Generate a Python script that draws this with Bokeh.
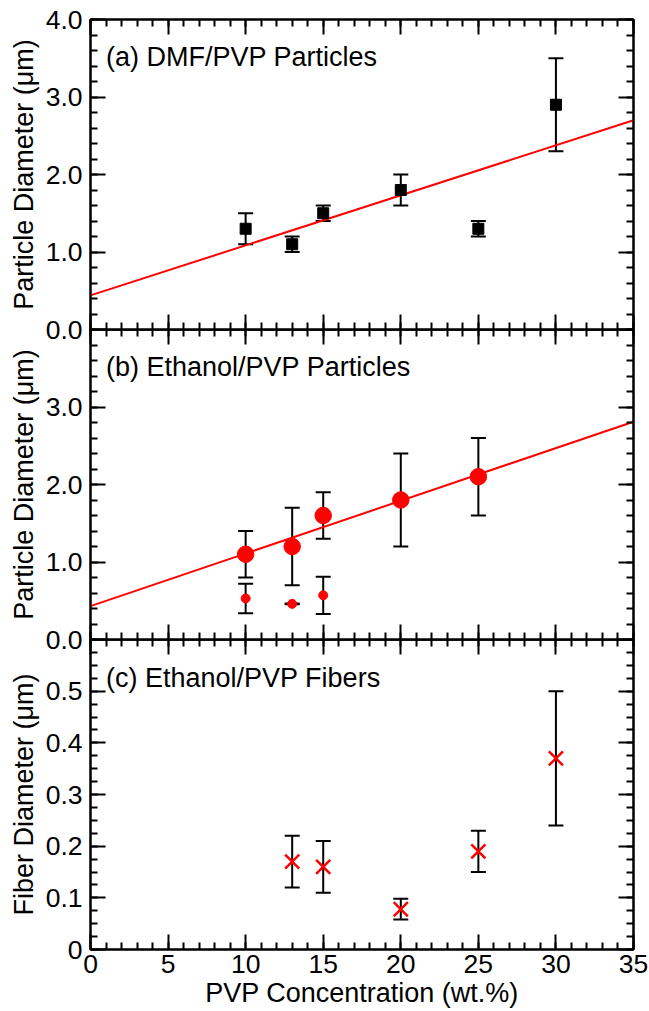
from bokeh.plotting import figure
from bokeh.models import (FixedTicker, LinearAxis, Range1d, Whisker, TeeHead,
                          ColumnDataSource, Label, PrintfTickFormatter)
from bokeh.layouts import column
from bokeh.embed import file_html
from bokeh.resources import INLINE

# ---------------- data ----------------
# (a) DMF/PVP particles
a_x = [10, 13, 15, 20, 25, 30]
a_y = [1.3, 1.1, 1.5, 1.8, 1.3, 2.9]
a_err = [0.2, 0.1, 0.1, 0.2, 0.1, 0.6]
a_fit_x = [0, 35]
a_fit_y = [0.44, 2.70]

# (b) Ethanol/PVP particles - large population
b_x = [10, 13, 15, 20, 25]
b_y = [1.1, 1.2, 1.6, 1.8, 2.1]
b_err = [0.3, 0.5, 0.3, 0.6, 0.5]
# (b) small population
bs_x = [10, 13, 15]
bs_y = [0.53, 0.46, 0.57]
bs_err = [0.19, 0.005, 0.24]
b_fit_x = [0, 35]
b_fit_y = [0.43, 2.81]

# (c) Ethanol/PVP fibers
c_x = [13, 15, 20, 25, 30]
c_y = [0.17, 0.16, 0.078, 0.19, 0.37]
c_err = [0.05, 0.05, 0.02, 0.04, 0.13]

x_ticks = [0, 5, 10, 15, 20, 25, 30, 35]
x_minor = list(range(0, 36))
a_y_ticks = [0, 1, 2, 3, 4]
b_y_ticks = [0, 1, 2, 3]
ab_y_minor = [i * 0.2 for i in range(0, 21)]
c_y_ticks = [0, 0.1, 0.2, 0.3, 0.4, 0.5]
c_y_minor = [i * 0.025 for i in range(0, 25)]

titles = ["(a) DMF/PVP Particles", "(b) Ethanol/PVP Particles", "(c) Ethanol/PVP Fibers"]
ylabels = ["Particle Diameter (\u03bcm)", "Particle Diameter (\u03bcm)", "Fiber Diameter (\u03bcm)"]
xlabel = "PVP Concentration (wt.%)"

FONT = "Liberation Sans"
TICK_FS = "26.5px"
LAB_FS = "27px"
FRAME_W = 543
FRAME_H = 310
OVER = 16  # canvas overlap between stacked panels


def style_axis(ax, show_labels):
    ax.axis_line_width = 2
    ax.axis_line_color = "black"
    ax.major_tick_line_width = 2
    ax.minor_tick_line_width = 2
    ax.major_tick_line_color = "black"
    ax.minor_tick_line_color = "black"
    ax.major_tick_in = 15
    ax.major_tick_out = 0
    ax.minor_tick_in = 7
    ax.minor_tick_out = 0
    ax.major_label_text_font = FONT
    ax.axis_label_text_font = FONT
    ax.axis_label_text_font_style = "normal"
    ax.axis_label_text_color = "black"
    ax.axis_label_text_font_size = LAB_FS
    ax.major_label_text_font_size = TICK_FS
    if show_labels:
        ax.major_label_text_color = "black"
    else:
        ax.major_label_text_color = None
        ax.major_label_standoff = 0


def make_fig(yr, yticks, yminor, border_top, border_bottom, show_x_labels, top_margin):
    p = figure(frame_width=FRAME_W, frame_height=FRAME_H,
               x_range=Range1d(0, 35), y_range=Range1d(*yr),
               output_backend="svg", toolbar_location=None,
               x_axis_location=None, y_axis_location=None,
               min_border_left=90, min_border_right=16,
               min_border_top=border_top, min_border_bottom=border_bottom,
               margin=(top_margin, 0, 0, 0))
    p.grid.visible = False
    p.outline_line_color = "black"
    p.outline_line_width = 2
    p.background_fill_color = None
    p.border_fill_color = None

    xt = FixedTicker(ticks=x_ticks, minor_ticks=x_minor)
    yt = FixedTicker(ticks=yticks, minor_ticks=yminor)

    left = LinearAxis(ticker=yt)
    style_axis(left, True)
    left.major_label_standoff = 8
    left.axis_label_standoff = 4
    p.add_layout(left, "left")

    right = LinearAxis(ticker=yt)
    style_axis(right, False)
    p.add_layout(right, "right")

    below = LinearAxis(ticker=xt)
    style_axis(below, show_x_labels)
    if show_x_labels:
        below.major_label_standoff = 5
        below.axis_label = xlabel
        below.axis_label_standoff = 2
    p.add_layout(below, "below")

    above = LinearAxis(ticker=xt)
    style_axis(above, False)
    p.add_layout(above, "above")
    return p, left


def whiskers(p, xs, ys, errs):
    src = ColumnDataSource(dict(x=xs, lo=[y - e for y, e in zip(ys, errs)],
                                hi=[y + e for y, e in zip(ys, errs)]))
    w = Whisker(base="x", lower="lo", upper="hi", source=src,
                line_color="black", line_width=2, level="underlay",
                upper_head=TeeHead(size=15, line_width=2, line_color="black"),
                lower_head=TeeHead(size=15, line_width=2, line_color="black"))
    p.add_layout(w)


# ---------- panel a ----------
pa, la = make_fig((0, 4), a_y_ticks, ab_y_minor, 19, OVER, False, 0)
la.formatter = PrintfTickFormatter(format="%.1f")
la.axis_label = ylabels[0]
pa.line(a_fit_x, a_fit_y, line_color="red", line_width=2)
whiskers(pa, a_x, a_y, a_err)
pa.scatter(a_x, a_y, marker="square", size=11, fill_color="black", line_color="black")
pa.add_layout(Label(x=1.0, y=3.52, text=titles[0], text_font=FONT,
                    text_font_size=LAB_FS, text_color="black", text_baseline="alphabetic"))

# ---------- panel b ----------
pb, lb = make_fig((0, 4), b_y_ticks, ab_y_minor, 0, OVER, False, -OVER)
lb.formatter = PrintfTickFormatter(format="%.1f")
lb.axis_label = ylabels[1]
pb.line(b_fit_x, b_fit_y, line_color="red", line_width=2)
whiskers(pb, b_x, b_y, b_err)
whiskers(pb, bs_x, bs_y, bs_err)
pb.scatter(b_x, b_y, marker="circle", size=16.5, fill_color="red", line_color="red")
pb.scatter(bs_x, bs_y, marker="circle", size=9, fill_color="red", line_color="red")
pb.add_layout(Label(x=1.0, y=3.51, text=titles[1], text_font=FONT,
                    text_font_size=LAB_FS, text_color="black", text_baseline="alphabetic"))

# ---------- panel c ----------
pc, lc = make_fig((0, 0.6), c_y_ticks, c_y_minor, 0, 0, True, -OVER)
lc.formatter = PrintfTickFormatter(format="%.1f")
lc.major_label_overrides = {0: "0"}
lc.axis_label = ylabels[2]
whiskers(pc, c_x, c_y, c_err)
pc.scatter(c_x, c_y, marker="x", size=20, line_color="red", line_width=2.5)
pc.add_layout(Label(x=1.0, y=0.526, text=titles[2], text_font=FONT,
                    text_font_size=LAB_FS, text_color="black", text_baseline="alphabetic"))

layout = column(pa, pb, pc, spacing=0)
open("out.html", "w").write(file_html(layout, INLINE))
